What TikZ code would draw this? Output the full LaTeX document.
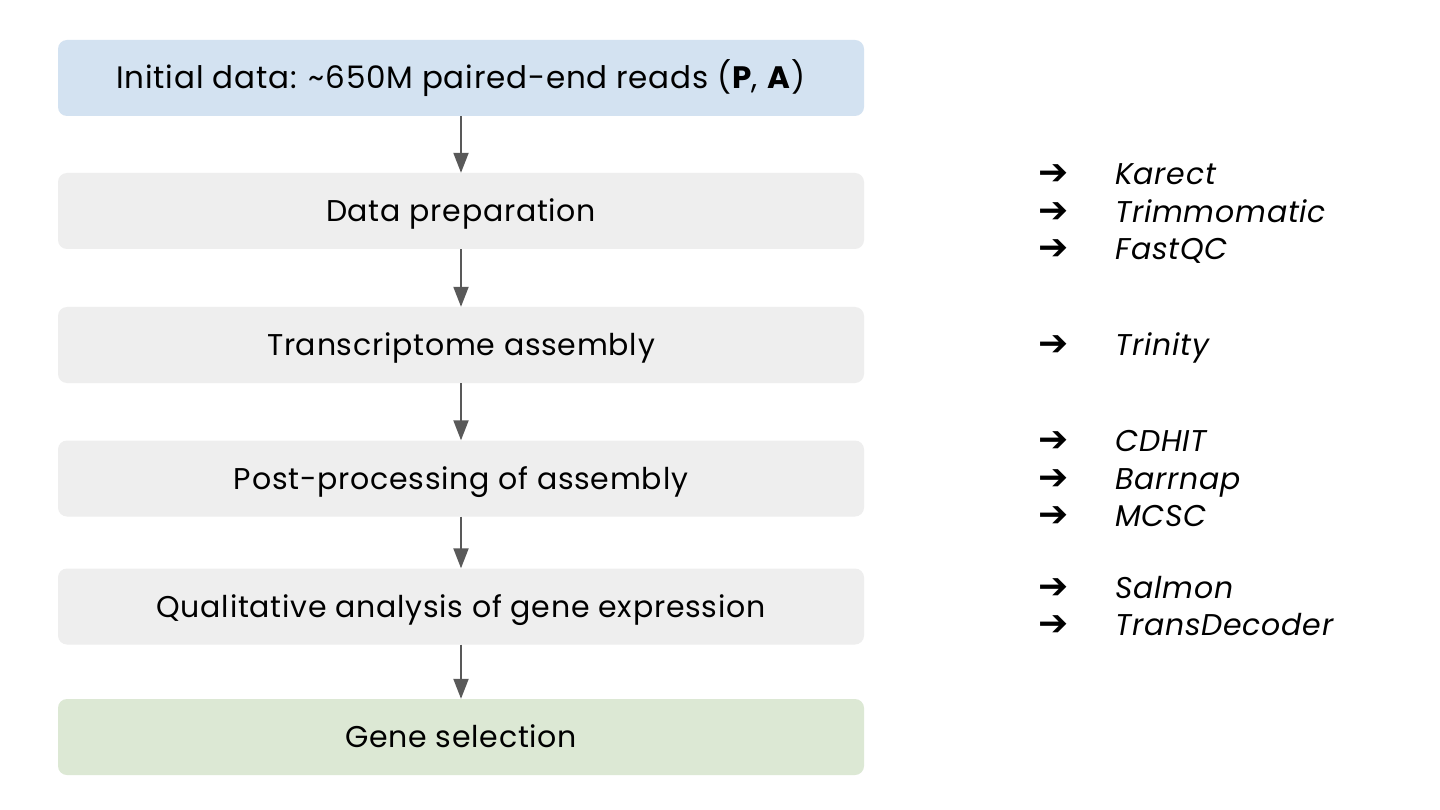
\documentclass[tikz,border=0pt]{standalone}
\usepackage{fontspec}
\setmainfont{Poppins}[LetterSpace=2.5]
\newfontfamily\arrowfont{DejaVu Sans}
\usetikzlibrary{arrows.meta}
\definecolor{boxblue}{HTML}{D3E2F1}
\definecolor{boxgray}{HTML}{EEEEEE}
\definecolor{boxgreen}{HTML}{DCE8D4}
\definecolor{conncol}{HTML}{595959}
\tikzset{
  stagebox/.style={rounded corners=9pt, minimum width=806pt, minimum height=76pt, inner sep=0pt,
    text height=21pt, text depth=0pt, font=\fontsize{30}{34}\selectfont, text=black},
  conn/.style={draw=conncol, line width=2pt, -{Triangle[width=15pt,length=20pt]}},
  toolarrow/.style={anchor=center, inner sep=0pt, font=\arrowfont\bfseries\fontsize{36}{40}\selectfont},
  toolname/.style={anchor=base west, inner sep=0pt, font=\itshape\fontsize{30}{34}\selectfont}
}
\begin{document}
\begin{tikzpicture}[x=1pt,y=-1pt]
\useasboundingbox[fill=white] (0,0) rectangle (1440,810);
\node[stagebox, fill=boxblue, font=\fontsize{31}{35}\selectfont] (b1) at (461,78) {Initial data: \textasciitilde650M paired-end reads (\textbf{P}, \textbf{A})};
\node[stagebox, fill=boxgray] (b2) at (461,211) {Data preparation};
\node[stagebox, fill=boxgray] (b3) at (461,345) {Transcriptome assembly};
\node[stagebox, fill=boxgray] (b4) at (461,478.5) {Post-processing of assembly};
\node[stagebox, fill=boxgray] (b5) at (461,606.5) {Qualitative analysis of gene expression};
\node[stagebox, fill=boxgreen] (b6) at (461,737) {Gene selection};
\draw[conn] (b1) -- (b2);
\draw[conn] (b2) -- (b3);
\draw[conn] (b3) -- (b4);
\draw[conn] (b4) -- (b5);
\draw[conn] (b5) -- (b6);
\foreach \n/\yy/\t in {t1/174/Karect, t2/212/Trimmomatic, t3/249/FastQC, t4/345/Trinity,
  t5/441/CDHIT, t6/479/Barrnap, t7/516/MCSC, t8/588/Salmon, t9/625/TransDecoder}{
  \node[toolarrow] (a\n) at (1054,\yy+1) {➔};
  \node[toolname] (\n) at (1115,\yy+10.5) {\t};
}
\end{tikzpicture}
\end{document}
